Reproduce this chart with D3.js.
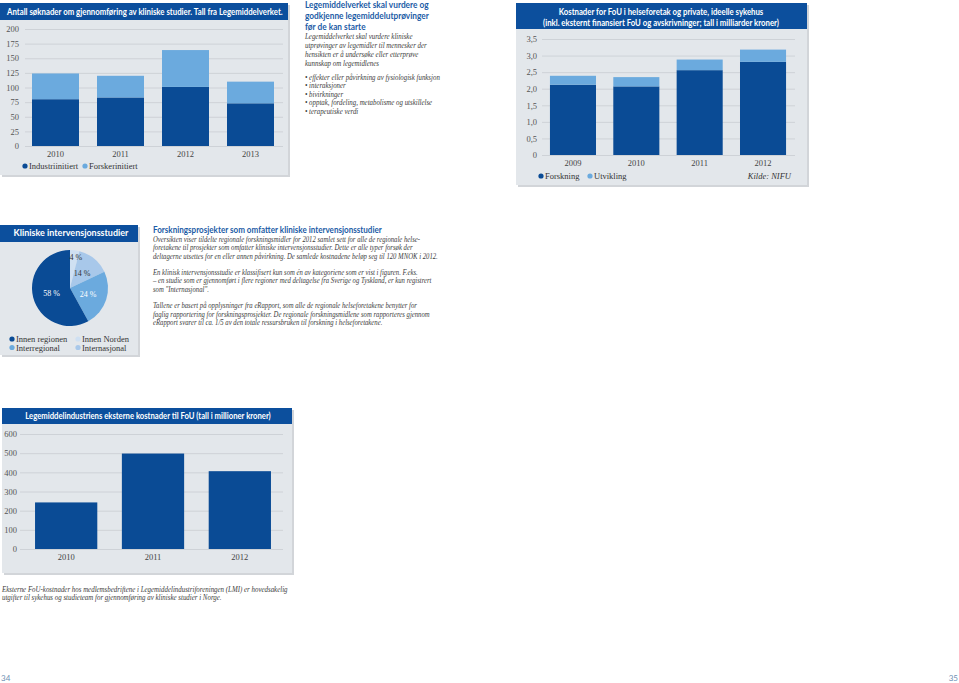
<!DOCTYPE html>
<html>
<head>
<meta charset="utf-8">
<script src="https://cdn.jsdelivr.net/npm/d3@7"></script>
<style>
	body { margin: 0; background: #fff; }
	svg { display: block; }
</style>
</head>
<body>
<svg id="page" width="959" height="683"></svg>
<script>
// --- data ---
const soknadYears = ["2010", "2011", "2012", "2013"];
const industriinitiert = [80, 83, 101, 73];
const forskerinitiert = [44, 37, 63, 37];
const soknadTicks = [0, 25, 50, 75, 100, 125, 150, 175, 200];

const fouYears = ["2009", "2010", "2011", "2012"];
const forskning = [2.12, 2.07, 2.56, 2.81];
const utvikling = [0.27, 0.28, 0.32, 0.37];
const fouTicks = [0, 0.5, 1, 1.5, 2, 2.5, 3, 3.5];

// pie order: clockwise from twelve o'clock
const studieKategorier = ["Innen Norden", "Internasjonal", "Interregional", "Innen regionen"];
const studieAndeler = [4, 14, 24, 58];
const legendOrder = ["Innen regionen", "Interregional", "Innen Norden", "Internasjonal"];

const lmiYears = ["2010", "2011", "2012"];
const lmiKostnader = [243, 498, 406];
const lmiTicks = [0, 100, 200, 300, 400, 500, 600];

// --- texts ---
const title1 = "Antall søknader om gjennomføring av kliniske studier. Tall fra Legemiddelverket.";
const title3 = ["Kostnader for FoU i helseforetak og private, ideelle sykehus",
	"(inkl. eksternt finansiert FoU og avskrivninger; tall i milliarder kroner)"];
const titlePie = "Kliniske intervensjonsstudier";
const title4 = "Legemiddelindustriens eksterne kostnader til FoU (tall i millioner kroner)";

const lmvHeading = ["Legemiddelverket skal vurdere og", "godkjenne legemiddelutprøvinger", "før de kan starte"];
const lmvText = ["Legemiddelverket skal vurdere kliniske", "utprøvinger av legemidler til mennesker der",
	"hensikten er å undersøke eller etterprøve", "kunnskap om legemidlenes"];
const lmvBullets = ["• effekter eller påvirkning av fysiologisk funksjon", "• interaksjoner", "• bivirkninger",
	"• opptak, fordeling, metabolisme og utskillelse", "• terapeutiske verdi"];

const fpHeading = "Forskningsprosjekter som omfatter kliniske intervensjonsstudier";
const fpText = [
	"Oversikten viser tildelte regionale forskningsmidler for 2012 samlet sett for alle de regionale helse-",
	"foretakene til prosjekter som omfatter kliniske intervensjonsstudier. Dette er alle typer forsøk der",
	"deltagerne utsettes for en eller annen påvirkning. De samlede kostnadene beløp seg til 120 MNOK i 2012.",
	"En klinisk intervensjonsstudie er klassifisert kun som én av kategoriene som er vist i figuren. F.eks.",
	"– en studie som er gjennomført i flere regioner med deltagelse fra Sverige og Tyskland, er kun registrert",
	"som \"Internasjonal\".",
	"Tallene er basert på opplysninger fra eRapport, som alle de regionale helseforetakene benytter for",
	"faglig rapportering for forskningsprosjekter.  De regionale forskningsmidlene som rapporteres gjennom",
	"eRapport svarer til ca. 1/5 av den totale ressursbruken til forskning i helseforetakene."
];
const lmiFooter = [
	"Eksterne FoU-kostnader hos medlemsbedriftene i Legemiddelindustriforeningen (LMI) er hovedsakelig",
	"utgifter til  sykehus og studieteam for gjennomføring av kliniske studier i Norge."
];

// --- style ---
const sans = "Lato, 'Open Sans', sans-serif";
const serif = "'Liberation Serif', 'DejaVu Serif', serif";
const dark = "#0a4b95";
const light = "#6baade";
const headBlue = "#0c4f9d";
const panelBg = "#e3e7eb";
const gridCol = "#c9cdd2";

const svg = d3.select("#page");

// squeeze a block of lines horizontally so its longest line fits maxW
function condense(sel, maxW) {
	let longest = 0;
	sel.each(function() { longest = Math.max(longest, this.getComputedTextLength()); });
	const k = Math.min(1, maxW / longest);
	if (k < 1) {
		sel.each(function() {
			const x = +this.getAttribute("x");
			d3.select(this).attr("transform", `translate(${x * (1 - k)},0) scale(${k},1)`);
		});
	}
}

function panel(x, y, w, h, titleH) {
	svg.append("rect").attr("x", x + 2).attr("y", y + 2).attr("width", w).attr("height", h).attr("fill", "#d2d5d9");
	svg.append("rect").attr("x", x).attr("y", y).attr("width", w).attr("height", h).attr("fill", panelBg);
	svg.append("rect").attr("x", x).attr("y", y).attr("width", w).attr("height", titleH).attr("fill", headBlue);
}

function titleLines(lines, cx, ys, size, maxW, anchor) {
	const t = svg.append("g").selectAll("text")
	.data(lines)
	.enter()
	.append("text")
	.attr("x", cx)
	.attr("y", (d, i) => ys[i])
	.attr("text-anchor", anchor || "middle")
	.attr("font-family", sans)
	.attr("font-weight", "bold")
	.attr("font-size", size)
	.attr("fill", "#fff")
	.text(d => d);
	condense(t, maxW);
	return t;
}

function textBlock(lines, x, ys, opts) {
	const t = svg.append("g").selectAll("text")
	.data(lines)
	.enter()
	.append("text")
	.attr("x", x)
	.attr("y", (d, i) => ys[i])
	.attr("font-family", opts.family)
	.attr("font-style", opts.style || "normal")
	.attr("font-weight", opts.weight || "normal")
	.attr("font-size", opts.size)
	.attr("fill", opts.fill)
	.text(d => d);
	condense(t, opts.maxW);
	return t;
}

function gridAxis(g, y, ticks, x0, x1, pad, fmt) {
	const ax = g.append("g")
	.attr("transform", `translate(${x0},0)`)
	.call(d3.axisLeft(y).tickValues(ticks).tickSize(-(x1 - x0)).tickPadding(pad).tickFormat(fmt));
	ax.select(".domain").remove();
	ax.selectAll("line").attr("stroke", gridCol).attr("stroke-width", 0.8);
	ax.selectAll("text").attr("font-family", serif).attr("font-size", 8.5).attr("fill", "#555");
}

function bottomLabels(g, x, y0) {
	const ax = g.append("g")
	.attr("transform", `translate(0,${y0})`)
	.call(d3.axisBottom(x).tickSize(0).tickPadding(5));
	ax.select(".domain").remove();
	ax.selectAll("text").attr("font-family", serif).attr("font-size", 8.5).attr("fill", "#444");
}

function legend(g, items, y) {
	const it = g.selectAll(".leg")
	.data(items)
	.enter()
	.append("g")
	.attr("class", "leg");
	it.append("circle").attr("cx", d => d.x).attr("cy", y).attr("r", 2.6).attr("fill", d => d.color);
	it.append("text")
	.attr("x", d => d.x + 4)
	.attr("y", y + 3)
	.attr("font-family", serif)
	.attr("font-size", 8.5)
	.attr("fill", "#333")
	.text(d => d.label);
}

function stackedBars(g, rows, keys, colors, x, y) {
	const series = d3.stack().keys(keys)(rows);
	g.append("g").selectAll("g")
	.data(series)
	.enter()
	.append("g")
	.attr("fill", (d, i) => colors[i])
	.selectAll("rect")
	.data(d => d)
	.enter()
	.append("rect")
	.attr("x", d => x(d.data.year))
	.attr("width", x.bandwidth())
	.attr("y", d => y(d[1]))
	.attr("height", d => y(d[0]) - y(d[1]));
}

// ===== chart 1: søknader =====
panel(0, 3, 288, 172, 17);
titleLines([title1], 7, [15], 10, 276, "start");
{
	const g = svg.append("g");
	const x = d3.scaleBand().domain(soknadYears).range([23, 283]).paddingInner(0.277).paddingOuter(0.1385);
	const y = d3.scaleLinear().domain([0, 200]).range([146, 29]);
	gridAxis(g, y, soknadTicks, 25, 283, 6, d3.format("d"));
	const rows = soknadYears.map((year, i) => ({year, ind: industriinitiert[i], fors: forskerinitiert[i]}));
	stackedBars(g, rows, ["ind", "fors"], [dark, light], x, y);
	bottomLabels(g, x, 146);
	legend(g, [
		{x: 25, color: dark, label: "Industriinitiert"},
		{x: 85, color: light, label: "Forskerinitiert"}
	], 166);
}

// ===== text: Legemiddelverket =====
textBlock(lmvHeading, 305, [8.5, 19.3, 30.1], {family: sans, weight: "bold", size: 8.5, fill: "#1c5ca6", maxW: 124});
textBlock(lmvText, 305, [39.5, 48.3, 57.1, 65.9], {family: serif, style: "italic", size: 7.5, fill: "#3c3c3c", maxW: 122});
textBlock(lmvBullets, 305, [80, 88.5, 97, 105.5, 114], {family: serif, style: "italic", size: 7.5, fill: "#3c3c3c", maxW: 135});

// ===== chart 3: FoU-kostnader =====
panel(516, 3, 291, 182, 26);
titleLines(title3, 661, [14.8, 25.8], 9, 236);
{
	const g = svg.append("g");
	const x = d3.scaleBand().domain(fouYears).range([541.3, 794.7]).paddingInner(0.273).paddingOuter(0.1365);
	const y = d3.scaleLinear().domain([0, 3.5]).range([155, 39]);
	const fmt = d => d === 0 ? "0" : d3.format(".1f")(d).replace(".", ",");
	gridAxis(g, y, fouTicks, 542, 795, 5, fmt);
	const rows = fouYears.map((year, i) => ({year, fou: forskning[i], utv: utvikling[i]}));
	stackedBars(g, rows, ["fou", "utv"], [dark, light], x, y);
	bottomLabels(g, x, 155);
	legend(g, [
		{x: 541, color: dark, label: "Forskning"},
		{x: 590, color: light, label: "Utvikling"}
	], 176);
	g.append("text")
	.attr("x", 791)
	.attr("y", 179)
	.attr("text-anchor", "end")
	.attr("font-family", serif)
	.attr("font-style", "italic")
	.attr("font-size", 8.5)
	.attr("fill", "#333")
	.text("Kilde: NIFU");
}

// ===== pie: kliniske intervensjonsstudier =====
panel(0, 225, 138, 130, 17);
titleLines([titlePie], 71, [236.5], 10, 115);
{
	const pieColors = d3.scaleOrdinal()
	.domain(["Innen regionen", "Interregional", "Internasjonal", "Innen Norden"])
	.range([dark, light, "#a8c8ea", "#cfe0f2"]);
	const r = 38;
	const g = svg.append("g").attr("transform", "translate(70,288)");
	const slices = d3.pie().sort(null)(studieAndeler);
	const arc = d3.arc().innerRadius(0).outerRadius(r);
	const labelArc = d3.arc().innerRadius(r * 0.82).outerRadius(r * 0.82);
	g.selectAll("path")
	.data(slices)
	.enter()
	.append("path")
	.attr("d", arc)
	.attr("fill", (d, i) => pieColors(studieKategorier[i]));
	g.selectAll(".pl")
	.data(slices)
	.enter()
	.append("text")
	.attr("class", "pl")
	.attr("transform", d => {
		const small = d.endAngle - d.startAngle < 0.4;
		const c = small ? labelArc.centroid(d) : arc.centroid(d);
		return `translate(${c[0] + (small ? 2 : 0)},${c[1] + 3})`;
	})
	.attr("text-anchor", "middle")
	.attr("font-family", serif)
	.attr("font-size", 8)
	.attr("fill", (d, i) => studieAndeler[i] >= 20 ? "#fff" : "#333")
	.text(d => `${d.data} %`);

	const items = legendOrder.map((label, i) => ({
		x: i < 2 ? 12 : 78,
		color: pieColors(label),
		label
	}));
	legend(svg.append("g"), items.filter((d, i) => i % 2 === 0), 339);
	legend(svg.append("g"), items.filter((d, i) => i % 2 === 1), 347.5);
}

// ===== text: forskningsprosjekter =====
textBlock([fpHeading], 153, [233.5], {family: sans, weight: "bold", size: 10, fill: "#1c5ca6", maxW: 229});
textBlock(fpText, 153, [241.8, 250.2, 258.6, 275, 283.4, 291.8, 308.3, 316.7, 325.1],
	{family: serif, style: "italic", size: 7.5, fill: "#3c3c3c", maxW: 285});

// ===== chart 4: LMI-kostnader =====
panel(2, 408, 290, 165, 16);
titleLines([title4], 148, [419.5], 10, 246);
{
	const g = svg.append("g");
	const x = d3.scaleBand().domain(lmiYears).range([22.75, 283.25]).paddingInner(0.283).paddingOuter(0.1415);
	const y = d3.scaleLinear().domain([0, 600]).range([549, 434]);
	gridAxis(g, y, lmiTicks, 20, 283, 3, d3.format("d"));
	g.append("g").selectAll("rect")
	.data(lmiYears.map((year, i) => ({year, v: lmiKostnader[i]})))
	.enter()
	.append("rect")
	.attr("x", d => x(d.year))
	.attr("width", x.bandwidth())
	.attr("y", d => y(d.v))
	.attr("height", d => y(0) - y(d.v))
	.attr("fill", dark);
	bottomLabels(g, x, 549);
}
textBlock(lmiFooter, 2, [592.5, 600.5], {family: serif, style: "italic", size: 7.5, fill: "#3c3c3c", maxW: 286});

// page numbers
svg.append("text").attr("x", 1).attr("y", 681).attr("font-family", sans).attr("font-size", 8)
.attr("fill", "#6e8fb3").text("34");
svg.append("text").attr("x", 958).attr("y", 681).attr("text-anchor", "end").attr("font-family", sans)
.attr("font-size", 8).attr("fill", "#6e8fb3").text("35");
</script>
</body>
</html>
